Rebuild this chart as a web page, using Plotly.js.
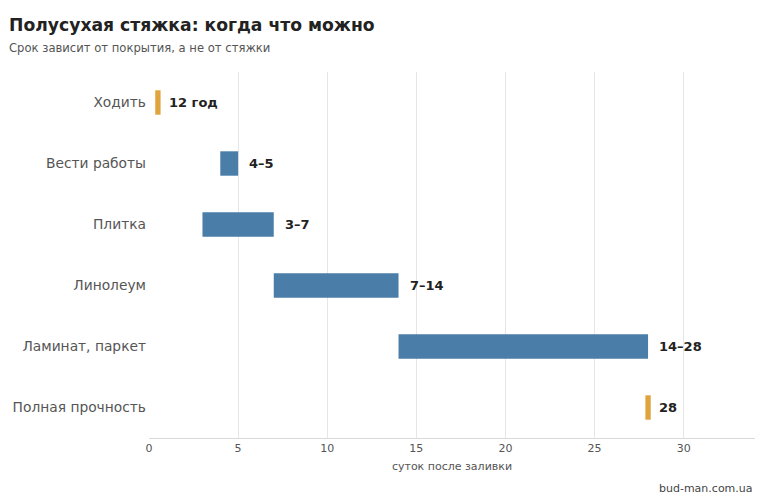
<!DOCTYPE html>
<html>
<head>
<meta charset="utf-8">
<script src="https://cdn.plot.ly/plotly-3.0.1.min.js"></script>
<style>
  html, body { margin: 0; padding: 0; background: #fff; }
  #chart { width: 768px; height: 502px; }
</style>
</head>
<body>
<div id="chart"></div>
<script>
// stages, days after pouring
const stages = ['Ходить', 'Вести работы', 'Плитка', 'Линолеум', 'Ламинат, паркет', 'Полная прочность'];
const dayFrom = [0.5, 4, 3, 7, 14, 28];
const dayTo   = [0.5, 5, 7, 14, 28, 28];
const labels  = ['12 год', '4–5', '3–7', '7–14', '14–28', '28'];
const isPoint = [true, false, false, false, false, true];

const xTicks = [0, 5, 10, 15, 20, 25, 30];

const BLUE = '#4a7ea8';
const ORANGE = '#e0a43e';
const PT_W = 0.3; // visual width of a single-day mark

// ranges -> floating bars, points -> thin marks
const rY = [], rBase = [], rLen = [];
const pY = [], pBase = [], pLen = [];
stages.forEach((s, i) => {
    if (isPoint[i]) {
        pY.push(s); pBase.push(dayFrom[i] - PT_W / 2); pLen.push(PT_W);
    } else {
        rY.push(s); rBase.push(dayFrom[i]); rLen.push(dayTo[i] - dayFrom[i]);
    }
});

const traces = [
    {
        type: 'bar', orientation: 'h',
        y: rY, x: rLen, base: rBase,
        marker: { color: BLUE },
        width: 0.4, hoverinfo: 'skip'
    },
    {
        type: 'bar', orientation: 'h',
        y: pY, x: pLen, base: pBase,
        marker: { color: ORANGE },
        width: 0.4, hoverinfo: 'skip'
    }
];

const annotations = stages.map((s, i) => ({
    x: dayTo[i], y: s, xref: 'x', yref: 'y',
    text: '<b>' + labels[i] + '</b>',
    showarrow: false, xanchor: 'left', xshift: 9,
    font: { family: 'DejaVu Sans', size: 13, color: '#222' }
}));

annotations.push(
    { xref: 'paper', yref: 'paper', x: -142 / 606, y: 1.066, xanchor: 'left', yanchor: 'middle',
      text: 'Срок зависит от покрытия, а не от стяжки', showarrow: false,
      font: { family: 'DejaVu Sans', size: 11.6, color: '#555' } },
    { xref: 'paper', yref: 'paper', x: 1, y: -0.137, xanchor: 'right', yanchor: 'middle',
      text: 'bud-man.com.ua', showarrow: false,
      font: { family: 'DejaVu Sans', size: 11, color: '#444' } }
);

const layout = {
    width: 768, height: 502,
    margin: { t: 72, b: 64, l: 149, r: 13 },
    paper_bgcolor: '#fff', plot_bgcolor: '#fff',
    showlegend: false,
    barmode: 'overlay',
    font: { family: 'DejaVu Sans', color: '#555' },
    title: {
        text: '<b>Полусухая стяжка: когда что можно</b>',
        x: 9 / 768, xanchor: 'left', xref: 'container',
        y: 1 - 25 / 502, yanchor: 'middle', yref: 'container',
        font: { family: 'DejaVu Sans', size: 17.2, color: '#222' }
    },
    xaxis: {
        range: [0, 34], tickvals: xTicks,
        showgrid: true, gridcolor: '#e6e6e6', zeroline: false,
        showline: true, linecolor: '#d9d9d9',
        ticks: '', tickfont: { size: 11, color: '#555' },
        title: { text: 'суток после заливки', font: { size: 11, color: '#555' }, standoff: 8 }
    },
    yaxis: {
        categoryorder: 'array', categoryarray: stages,
        autorange: 'reversed',
        showgrid: false, zeroline: false, showline: false,
        ticks: '', ticklabelstandoff: 2,
        tickfont: { size: 13.8, color: '#555' }
    },
    annotations: annotations
};

Plotly.newPlot('chart', traces, layout, { displayModeBar: false, staticPlot: true });
</script>
</body>
</html>
